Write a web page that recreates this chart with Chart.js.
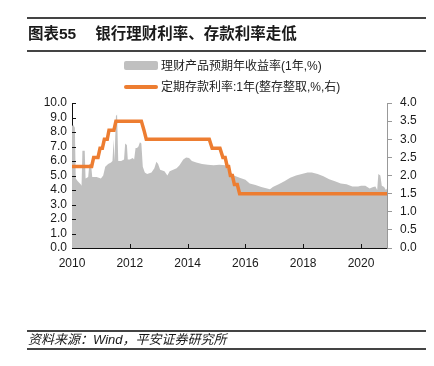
<!DOCTYPE html>
<html>
<head>
<meta charset="utf-8">
<script src="https://cdn.jsdelivr.net/npm/chart.js@4.4.1/dist/chart.umd.min.js"></script>
<style>
  html, body { margin: 0; padding: 0; background: #fff; }
  #wrap { position: relative; width: 434px; height: 366px; overflow: hidden; font-family: "Liberation Sans", Arial, "Noto Sans CJK SC", sans-serif; }
  canvas { position: absolute; left: 0; top: 0; }
  .rule { position: absolute; left: 27px; width: 399px; height: 2px; background: #444; }
  #title { position: absolute; left: 28px; top: 24px; font-size: 15.5px; font-weight: 700; color: #1a1a1a; line-height: 20px; white-space: nowrap; font-family: "Liberation Sans", Arial, "Noto Sans CJK SC", sans-serif; }
  #title span.t2 { margin-left: 19px; }
  .leg { position: absolute; left: 124px; font-size: 12px; color: #222; white-space: nowrap; line-height: 14px; }
  .leg .sw { position: absolute; left: 0; }
  .leg .tx { position: absolute; left: 37px; top: 0; }
  #source { position: absolute; left: 28px; top: 332px; font-size: 13px; font-style: italic; color: #1a1a1a; line-height: 16px; white-space: nowrap; }
</style>
</head>
<body>
<div id="wrap">
  <canvas id="c" width="434" height="366"></canvas>
  <div class="rule" style="top:17px"></div>
  <div id="title">图表55<span class="t2">银行理财利率、存款利率走低</span></div>
  <div class="rule" style="top:50px"></div>
  <div class="leg" style="top:59px"><div class="sw" style="top:2px;width:34px;height:9px;background:#c0c0c0;border-radius:2px"></div><div class="tx">理财产品预期年收益率(1年,%)</div></div>
  <div class="leg" style="top:80px"><div class="sw" style="top:5px;width:34px;height:4px;background:#ED7D31;border-radius:2px"></div><div class="tx">定期存款利率:1年(整存整取,%,右)</div></div>
  <div class="rule" style="top:330px"></div>
  <div id="source">资料来源：Wind，平安证券研究所</div>
  <div class="rule" style="top:348px"></div>
</div>
<script>
// Tick labels
const xTickYears = [2010, 2012, 2014, 2016, 2018, 2020];
const leftTicks = [0,1,2,3,4,5,6,7,8,9,10];
const rightTicks = [0,0.5,1,1.5,2,2.5,3,3.5,4];

// 理财产品预期年收益率(1年,%) — decimal year / value
const incomeDates = [2010.00,2010.04,2010.10,2010.13,2010.20,2010.30,2010.33,2010.36,2010.44,2010.47,2010.56,2010.60,2010.66,2010.70,2010.85,2011.00,2011.08,2011.15,2011.25,2011.35,2011.40,2011.44,2011.47,2011.52,2011.56,2011.60,2011.70,2011.80,2011.84,2011.90,2011.93,2012.00,2012.10,2012.15,2012.20,2012.25,2012.30,2012.35,2012.40,2012.45,2012.52,2012.60,2012.75,2012.85,2012.92,2012.98,2013.05,2013.20,2013.30,2013.38,2013.50,2013.62,2013.72,2013.85,2013.95,2014.05,2014.15,2014.30,2014.50,2014.70,2014.90,2015.10,2015.30,2015.45,2015.60,2015.80,2016.00,2016.15,2016.35,2016.55,2016.75,2016.85,2016.95,2017.15,2017.35,2017.55,2017.75,2017.95,2018.15,2018.30,2018.50,2018.70,2018.90,2019.10,2019.30,2019.50,2019.70,2019.90,2020.00,2020.15,2020.30,2020.42,2020.50,2020.56,2020.60,2020.67,2020.72,2020.80,2020.86,2020.90];
const incomeValues = [8.4,8.5,8.3,4.8,4.6,4.4,4.3,6.7,6.7,4.8,4.9,5.8,5.8,4.9,4.9,4.8,5.0,5.6,5.8,5.9,6.0,7.5,6.0,9.1,9.2,6.0,6.0,6.1,7.2,7.1,6.1,6.1,6.2,6.1,6.9,6.9,7.0,7.3,7.2,5.6,5.2,5.1,5.2,5.5,5.95,5.8,5.4,5.3,5.0,5.3,5.4,5.5,5.7,6.1,6.25,6.2,6.0,5.9,5.8,5.75,5.7,5.75,5.7,5.3,5.0,4.85,4.7,4.45,4.35,4.2,4.1,4.05,4.2,4.4,4.6,4.85,5.0,5.1,5.2,5.2,5.1,4.95,4.75,4.6,4.45,4.4,4.25,4.25,4.3,4.3,4.1,4.2,4.25,4.0,5.1,5.0,4.3,4.2,4.0,4.1];

// 定期存款利率:1年(整存整取,%,右)
const depositDates = [2010.00,2010.68,2010.75,2010.90,2010.97,2011.05,2011.12,2011.22,2011.28,2011.45,2011.52,2012.40,2012.49,2012.57,2014.75,2014.85,2015.12,2015.22,2015.30,2015.37,2015.42,2015.48,2015.55,2015.62,2015.72,2015.80,2020.90];
const depositValues = [2.25,2.25,2.5,2.5,2.75,2.75,3.0,3.0,3.25,3.25,3.5,3.5,3.25,3.0,3.0,2.75,2.75,2.5,2.5,2.25,2.25,2.0,2.0,1.75,1.75,1.5,1.5];

const incomeData = incomeDates.map((d, i) => ({x: d, y: incomeValues[i]}));
const depositData = depositDates.map((d, i) => ({x: d, y: depositValues[i]}));

const innerTicks = {
  id: 'innerTicks',
  afterDraw(chart) {
    const {ctx, chartArea, scales} = chart;
    ctx.save();
    ctx.strokeStyle = '#111';
    ctx.lineWidth = 1;
    ctx.beginPath();
    xTickYears.forEach(v => {
      if (v <= scales.x.min) return;
      const px = Math.round(scales.x.getPixelForValue(v)) + 0.5;
      ctx.moveTo(px, chartArea.bottom);
      ctx.lineTo(px, chartArea.bottom - 4);
    });
    leftTicks.forEach(v => {
      const py = Math.round(scales.y.getPixelForValue(v)) + 0.5;
      ctx.moveTo(chartArea.left, py);
      ctx.lineTo(chartArea.left + 4, py);
    });
    ctx.stroke();
    ctx.restore();
  }
};

const tickFont = { family: '"Liberation Sans", Arial, sans-serif', size: 12 };

new Chart(document.getElementById('c'), {
  type: 'line',
  data: {
    datasets: [
      {
        label: '定期存款利率:1年(整存整取,%,右)',
        data: depositData,
        yAxisID: 'y1',
        borderColor: '#ED7D31',
        borderWidth: 3.5,
        pointRadius: 0,
        fill: false,
        tension: 0,
        order: 0
      },
      {
        label: '理财产品预期年收益率(1年,%)',
        data: incomeData,
        yAxisID: 'y',
        borderWidth: 0,
        borderColor: 'rgba(0,0,0,0)',
        backgroundColor: '#c0c0c0',
        pointRadius: 0,
        fill: 'origin',
        tension: 0,
        order: 1
      }
    ]
  },
  options: {
    responsive: false,
    devicePixelRatio: 1,
    animation: false,
    layout: { padding: { top: 103, bottom: 88, left: 0, right: 0 } },
    plugins: { legend: { display: false }, tooltip: { enabled: false } },
    scales: {
      x: {
        type: 'linear',
        min: 2010,
        max: 2020.9,
        z: 1,
        afterFit: s => { s.height = 30; },
        afterBuildTicks: s => { s.ticks = xTickYears.map(v => ({value: v})); },
        ticks: { includeBounds: false, autoSkip: false, maxRotation: 0, padding: 8, color: '#1a1a1a', font: tickFont, callback: v => String(v) },
        grid: { display: false, drawTicks: false },
        border: { display: true, color: '#111', width: 1 }
      },
      y: {
        position: 'left',
        min: 0, max: 10,
        z: 1,
        afterFit: s => { s.width = 72; },
        afterBuildTicks: s => { s.ticks = leftTicks.map(v => ({value: v})); },
        ticks: { autoSkip: false, padding: 5, color: '#1a1a1a', font: tickFont, callback: v => Number(v).toFixed(1) },
        grid: { display: false, drawTicks: false },
        border: { display: true, color: '#111', width: 1 }
      },
      y1: {
        position: 'right',
        min: 0, max: 4,
        z: 1,
        afterFit: s => { s.width = 47; },
        afterBuildTicks: s => { s.ticks = rightTicks.map(v => ({value: v})); },
        ticks: { autoSkip: false, padding: 8, color: '#1a1a1a', font: tickFont, callback: v => Number(v).toFixed(1) },
        grid: { display: true, drawOnChartArea: false, drawTicks: true, tickLength: 5, color: '#999' },
        border: { display: true, color: '#999', width: 1 }
      }
    }
  },
  plugins: [innerTicks]
});
</script>
</body>
</html>
